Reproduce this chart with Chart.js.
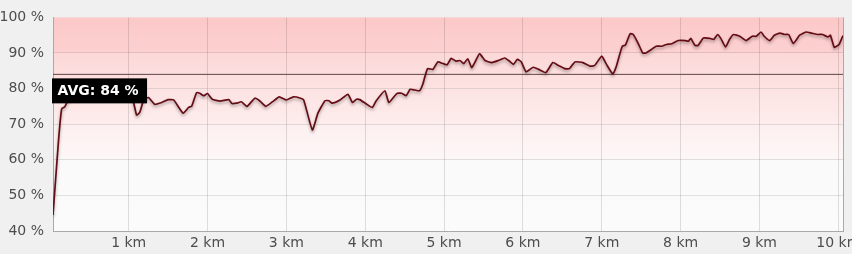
<!DOCTYPE html>
<html>
<head>
<meta charset="utf-8">
<script src="https://cdn.jsdelivr.net/npm/chart.js@4"></script>
<style>
    html, body { margin: 0; padding: 0; overflow: hidden; background: #f0f0f0; }
    #wrap { position: absolute; left: -20px; top: 0; width: 900px; height: 254px; }
</style>
</head>
<body>
<div id="wrap"><canvas id="grafico" width="900" height="254"></canvas></div>
<script>
// Distância (km) e intensidade (%)
const distKm = [
    0.04, 0.11, 0.15, 0.19, 0.23, 0.32, 0.45, 0.57, 0.70, 0.83,
    0.95, 1.04, 1.10, 1.14, 1.19, 1.25, 1.33, 1.42, 1.50, 1.57,
    1.69, 1.76, 1.80, 1.86, 1.90, 1.95, 2.00, 2.06, 2.16, 2.27,
    2.31, 2.37, 2.43, 2.50, 2.60, 2.66, 2.74, 2.83, 2.91, 3.00,
    3.09, 3.18, 3.22, 3.33, 3.40, 3.49, 3.54, 3.58, 3.68, 3.78,
    3.84, 3.89, 3.93, 4.02, 4.09, 4.14, 4.25, 4.30, 4.40, 4.46,
    4.52, 4.57, 4.63, 4.69, 4.73, 4.79, 4.86, 4.92, 4.99, 5.04,
    5.09, 5.15, 5.20, 5.25, 5.30, 5.35, 5.39, 5.45, 5.52, 5.60,
    5.69, 5.77, 5.83, 5.88, 5.93, 5.98, 6.04, 6.13, 6.20, 6.29,
    6.38, 6.45, 6.53, 6.59, 6.66, 6.76, 6.85, 6.91, 7.00, 7.06,
    7.14, 7.18, 7.26, 7.30, 7.36, 7.40, 7.46, 7.52, 7.56, 7.63,
    7.69, 7.76, 7.82, 7.89, 7.97, 8.06, 8.10, 8.13, 8.18, 8.22,
    8.29, 8.37, 8.42, 8.47, 8.51, 8.57, 8.62, 8.67, 8.75, 8.83,
    8.91, 8.96, 9.02, 9.06, 9.13, 9.19, 9.26, 9.32, 9.37, 9.43,
    9.51, 9.59, 9.66, 9.74, 9.80, 9.87, 9.90, 9.95, 10.01, 10.06
];

const intensidade = [
    44.5, 65.4, 74.3, 74.9, 76.6, 77.5, 78.5, 77.3, 78.2, 78.8,
    78.0, 77.8, 72.6, 73.3, 76.8, 77.5, 75.6, 76.1, 76.9, 76.8,
    73.1, 74.7, 75.1, 78.8, 78.7, 78.0, 78.6, 77.0, 76.5, 76.9,
    75.8, 75.9, 76.3, 75.0, 77.3, 76.6, 75.0, 76.4, 77.7, 76.8,
    77.7, 77.3, 76.8, 68.4, 73.1, 76.6, 76.6, 75.9, 76.8, 78.4,
    76.1, 77.0, 76.9, 75.6, 74.7, 76.6, 79.4, 76.1, 78.6, 78.7,
    78.0, 79.8, 79.6, 79.4, 81.2, 85.6, 85.4, 87.5, 87.0, 86.7,
    88.5, 87.7, 87.9, 87.0, 88.4, 85.9, 87.3, 89.8, 87.9, 87.3,
    87.9, 88.6, 87.7, 86.8, 88.2, 87.5, 84.7, 86.0, 85.4, 84.5,
    87.3, 86.5, 85.6, 85.6, 87.5, 87.3, 86.3, 86.5, 89.1, 86.8,
    84.1, 85.9, 91.9, 92.2, 95.4, 95.2, 92.8, 90.0, 90.0, 91.0,
    91.9, 91.9, 92.4, 92.6, 93.5, 93.5, 93.3, 94.1, 92.2, 92.1,
    94.2, 94.1, 93.8, 95.2, 94.1, 91.7, 93.8, 95.2, 94.7, 93.5,
    94.7, 94.7, 95.9, 94.7, 93.5, 95.0, 95.6, 95.2, 95.2, 92.7,
    95.0, 95.9, 95.6, 95.2, 95.2, 94.5, 95.0, 91.6, 92.4, 94.9
];

const media = 84;
const rotuloMedia = 'AVG: 84 %';

// Zonas de intensidade (limite inferior / superior em %)
const zonaInicio = [40, 60, 70, 80, 90];
const zonaFim = [60, 70, 80, 90, 100];

// Cores das zonas (topo, base)
const CORES_ZONA = [
    ['#fafafa', '#fbfbfb'],
    ['#fdefef', '#fdf7f7'],
    ['#fde2e2', '#fdeded'],
    ['#fcd8d8', '#fde2e2'],
    ['#fcc8c8', '#fcd1d1']
];

const pontos = distKm.map((x, i) => ({ x, y: intensidade[i] }));
const xMin = distKm[0];
const xMax = distKm[distKm.length - 1];

const pluginZonas = {
    id: 'zonas',
    beforeDraw(chart) {
        const { ctx, chartArea, scales } = chart;
        ctx.save();
        zonaInicio.forEach((ini, i) => {
            const yTop = scales.y.getPixelForValue(zonaFim[i]);
            const yBot = scales.y.getPixelForValue(ini);
            const grad = ctx.createLinearGradient(0, yTop, 0, yBot);
            grad.addColorStop(0, CORES_ZONA[i][0]);
            grad.addColorStop(1, CORES_ZONA[i][1]);
            ctx.fillStyle = grad;
            ctx.fillRect(chartArea.left, yTop, chartArea.right - chartArea.left, yBot - yTop);
        });
        ctx.restore();
    },
    afterDraw(chart) {
        const { ctx, chartArea } = chart;
        // borda direita
        ctx.save();
        ctx.strokeStyle = '#a9a9a9';
        ctx.lineWidth = 1;
        ctx.beginPath();
        ctx.moveTo(Math.round(chartArea.right) + 0.5, chartArea.top);
        ctx.lineTo(Math.round(chartArea.right) + 0.5, chartArea.bottom);
        ctx.stroke();

        // rótulo da média
        const y = chart.scales.y.getPixelForValue(media);
        ctx.font = 'bold 14px "DejaVu Sans"';
        const w = ctx.measureText(rotuloMedia).width + 14;
        const left = chartArea.left - 1;
        ctx.fillStyle = '#000';
        ctx.fillRect(left, y + 4, w, 25);
        ctx.fillStyle = '#fff';
        ctx.textBaseline = 'middle';
        ctx.fillText(rotuloMedia, left + 5.5, y + 17);
        ctx.restore();
    }
};

const pluginSombra = {
    id: 'sombra',
    beforeDatasetDraw(chart, args) {
        if (args.index !== 0) return;
        const ctx = chart.ctx;
        ctx.save();
        ctx.shadowColor = 'rgba(0,0,0,0.35)';
        ctx.shadowBlur = 3;
        ctx.shadowOffsetY = 2;
    },
    afterDatasetDraw(chart, args) {
        if (args.index !== 0) return;
        chart.ctx.restore();
    }
};

new Chart(document.getElementById('grafico').getContext('2d'), {
    type: 'line',
    data: {
        datasets: [{
            data: pontos,
            borderColor: '#640d14',
            borderWidth: 1.7,
            pointRadius: 0,
            tension: 0.15,
            fill: false,
            order: 1
        }, {
            data: [{ x: xMin, y: media }, { x: xMax, y: media }],
            borderColor: '#5e4444',
            borderWidth: 1,
            pointRadius: 0,
            fill: false,
            order: 2
        }]
    },
    options: {
        responsive: false,
        animation: false,
        layout: { padding: { top: 16, right: 37, left: 0, bottom: 0 } },
        plugins: {
            legend: { display: false },
            tooltip: { enabled: false }
        },
        scales: {
            x: {
                type: 'linear',
                min: xMin,
                max: xMax,
                afterFit(scale) { scale.height = 23; },
                border: { color: '#a9a9a9' },
                grid: { color: 'rgba(0,0,0,0.12)', drawTicks: false },
                ticks: {
                    stepSize: 1,
                    includeBounds: false,
                    padding: 4,
                    color: '#4d4d4d',
                    font: { family: 'DejaVu Sans', size: 14 },
                    callback: v => v + ' km'
                }
            },
            y: {
                min: 40,
                max: 100,
                afterFit(scale) { scale.width = 73; },
                border: { color: '#a9a9a9' },
                grid: {
                    drawTicks: false,
                    color: ctx => ctx.tick && ctx.tick.value === 100 ? 'rgba(0,0,0,0)' : 'rgba(0,0,0,0.1)'
                },
                ticks: {
                    stepSize: 10,
                    padding: 9,
                    color: '#4d4d4d',
                    font: { family: 'DejaVu Sans', size: 14 },
                    callback: v => v + ' %'
                }
            }
        }
    },
    plugins: [pluginZonas, pluginSombra]
});
</script>
</body>
</html>
